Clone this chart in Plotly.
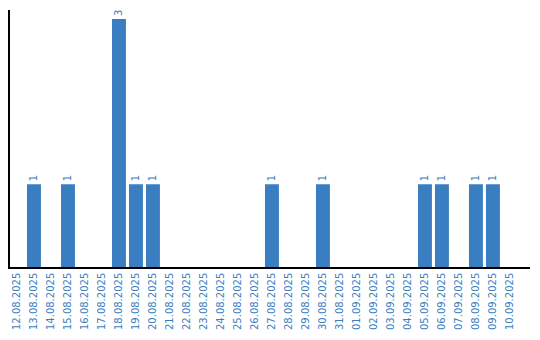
import plotly.graph_objects as go

dates = ["12.08.2025","13.08.2025","14.08.2025","15.08.2025","16.08.2025","17.08.2025",
         "18.08.2025","19.08.2025","20.08.2025","21.08.2025","22.08.2025","23.08.2025",
         "24.08.2025","25.08.2025","26.08.2025","27.08.2025","28.08.2025","29.08.2025",
         "30.08.2025","31.08.2025","01.09.2025","02.09.2025","03.09.2025","04.09.2025",
         "05.09.2025","06.09.2025","07.09.2025","08.09.2025","09.09.2025","10.09.2025"]
counts = [0,1,0,1,0,0,3,1,1,0,0,0,0,0,0,1,0,0,1,0,0,0,0,0,1,1,0,1,1,0]

color = "#3a7ec2"
labels = [str(c) if c > 0 else "" for c in counts]

fig = go.Figure(go.Bar(
    x=dates, y=counts, marker_color=color, marker_line_width=0,
    text=labels, textposition="outside", textangle=-90,
    textfont=dict(family="DejaVu Sans", size=10, color=color),
    cliponaxis=False,
))
fig.update_layout(
    width=540, height=340,
    margin=dict(l=10, r=10, t=10, b=70),
    plot_bgcolor="white", paper_bgcolor="white",
    bargap=0.18, showlegend=False,
    font=dict(family="DejaVu Sans", size=10, color=color),
)
fig.update_xaxes(type="category", range=[-0.41, 30.18], tickangle=-90,
                 showline=True, linecolor="black", linewidth=1.5,
                 ticks="", showgrid=False,
                 tickfont=dict(family="DejaVu Sans", size=10, color=color))
fig.update_yaxes(range=[0, 3.11], showline=True, linecolor="black", linewidth=1.5,
                 showticklabels=False, ticks="", showgrid=False, zeroline=False)
fig.write_html("out.html")
